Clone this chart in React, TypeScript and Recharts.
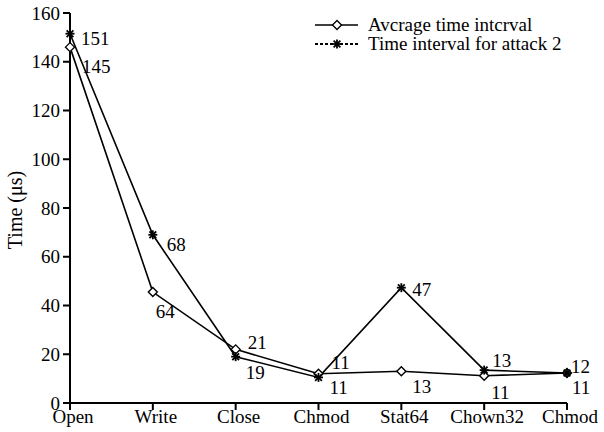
import { LineChart, Line, XAxis, YAxis, LabelList } from "recharts";

const categories = ["Open", "Write", "Close", "Chmod", "Stat64", "Chown32", "Chmod"];
const avgValues = [146, 45.5, 22, 12, 13, 11.2, 12.3];
const attackValues = [151.5, 69, 19, 10.5, 47.3, 13.5, 12.3];
const avgLabels = ["145", "64", "21", "11", "13", "11", "11"];
const attackLabels = ["151", "68", "19", "11", "47", "13", "12"];
const yTicks = [0, 20, 40, 60, 80, 100, 120, 140, 160];

const FONT = "'Liberation Serif', 'Times New Roman', serif";
const FS = 19;

// label offsets (dx, dy baseline) per point
const avgOffsets = [[12, 26], [3, 26], [12, 0], [13, -5], [11, 22], [7, 23], [5, 21]];
const attackOffsets = [[11, 11], [14, 16], [10, 22], [11, 17], [11, 8], [8, -3], [4, 0]];

const data = categories.map((name, i) => ({
  name,
  avg: avgValues[i],
  attack: attackValues[i],
  avgLabel: avgLabels[i],
  attackLabel: attackLabels[i],
}));

const Diamond = (props: any) => {
  const { cx, cy } = props;
  if (cx == null || cy == null) return null;
  const r = 4.5;
  return (
    <polygon
      points={`${cx},${cy - r} ${cx + r},${cy} ${cx},${cy + r} ${cx - r},${cy}`}
      fill="#fff"
      stroke="#000"
      strokeWidth={1.4}
    />
  );
};

const Star = (props: any) => {
  const { cx, cy } = props;
  if (cx == null || cy == null) return null;
  const r = 4.5;
  const d = r * 0.75;
  return (
    <g stroke="#000" strokeWidth={1.8}>
      <line x1={cx - r} y1={cy} x2={cx + r} y2={cy} />
      <line x1={cx} y1={cy - r} x2={cx} y2={cy + r} />
      <line x1={cx - d} y1={cy - d} x2={cx + d} y2={cy + d} />
      <line x1={cx - d} y1={cy + d} x2={cx + d} y2={cy - d} />
    </g>
  );
};

const makeLabel = (offsets: number[][]) => (props: any) => {
  const { x, y, value, index } = props;
  const [dx, dy] = offsets[index] || [8, 0];
  return (
    <text x={x + dx} y={y + dy} fontSize={FS} fontFamily={FONT} fill="#000">
      {value}
    </text>
  );
};

const LegendBox = () => (
  <div
    style={{
      position: "absolute",
      left: 312,
      top: 15,
      fontFamily: FONT,
      fontSize: FS,
      color: "#000",
      lineHeight: "19px",
    }}
  >
    <div style={{ display: "flex", alignItems: "center", height: 19 }}>
      <svg width={48} height={12}>
        <line x1={3} y1={6} x2={46} y2={6} stroke="#000" strokeWidth={1.6} />
        <Diamond cx={25} cy={6} />
      </svg>
      <span style={{ marginLeft: 8 }}>Avcrage time intcrval</span>
    </div>
    <div style={{ display: "flex", alignItems: "center", height: 19 }}>
      <svg width={48} height={12}>
        <line x1={3} y1={6} x2={46} y2={6} stroke="#000" strokeWidth={2.2} strokeDasharray="3 2" />
        <Star cx={25} cy={6} />
      </svg>
      <span style={{ marginLeft: 8 }}>Time interval for attack 2</span>
    </div>
  </div>
);

export default function App() {
  return (
    <div style={{ position: "absolute", left: 0, top: 0, width: 604, height: 432, background: "#fff" }}>
      <LineChart
        width={604}
        height={432}
        data={data}
        margin={{ top: 13, right: 37, bottom: 0, left: 0 }}
        style={{ fontFamily: FONT }}
      >
        <XAxis
          dataKey="name"
          height={29}
          padding={{ left: 0, right: 0 }}
          axisLine={{ stroke: "#000", strokeWidth: 2 }}
          tickLine={{ stroke: "#000", strokeWidth: 2 }}
          tickSize={7}
          tickMargin={0}
          tick={{ fill: "#000", fontSize: FS, fontFamily: FONT, dx: 3 }}
          interval={0}
          allowDuplicatedCategory
        />
        <YAxis
          width={70}
          domain={[0, 160]}
          ticks={yTicks}
          axisLine={{ stroke: "#000", strokeWidth: 2 }}
          tickLine={{ stroke: "#000", strokeWidth: 2 }}
          tickSize={7}
          tickMargin={3}
          tick={{ fill: "#000", fontSize: FS, fontFamily: FONT }}
          label={{
            value: "Time (μs)",
            angle: -90,
            position: "insideLeft",
            offset: 15,
            dy: 2,
            style: { fill: "#000", fontSize: 20, fontFamily: FONT, textAnchor: "middle" },
          }}
        />
        <Line
          type="linear"
          dataKey="avg"
          stroke="#000"
          strokeWidth={1.6}
          dot={<Diamond />}
          isAnimationActive={false}
        >
          <LabelList dataKey="avgLabel" content={makeLabel(avgOffsets)} />
        </Line>
        <Line
          type="linear"
          dataKey="attack"
          stroke="#000"
          strokeWidth={1.6}
          dot={<Star />}
          isAnimationActive={false}
        >
          <LabelList dataKey="attackLabel" content={makeLabel(attackOffsets)} />
        </Line>
      </LineChart>
      <LegendBox />
    </div>
  );
}
